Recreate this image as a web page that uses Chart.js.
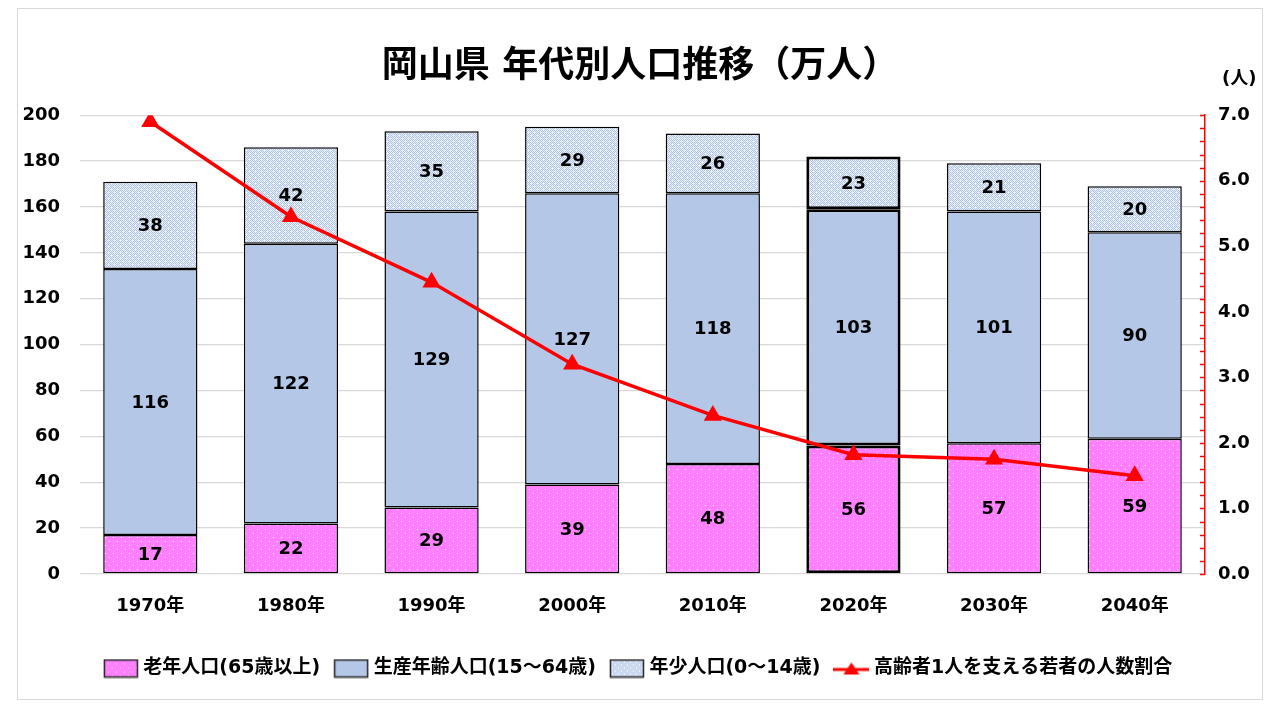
<!DOCTYPE html>
<html><head><meta charset="utf-8">
<script src="https://cdn.jsdelivr.net/npm/chart.js@4"></script>
<style>html,body{margin:0;padding:0;background:#fff;}#wrap{width:1280px;height:720px;}</style>
</head><body><div id="wrap"><canvas id="c" width="1280" height="720"></canvas></div>
<script>
// ---- data ----
const categories = ['1970年','1980年','1990年','2000年','2010年','2020年','2030年','2040年'];
const elderly = [17, 22, 29, 39, 48, 56, 57, 59];
const working = [116, 122, 129, 127, 118, 103, 101, 90];
const young = [38, 42, 35, 29, 26, 23, 21, 20];
const supportRatio = [6.9, 5.45, 4.45, 3.2, 2.42, 1.82, 1.75, 1.5];
const seriesNames = ['老年人口(65歳以上)', '生産年齢人口(15～64歳)', '年少人口(0～14歳)', '高齢者1人を支える若者の人数割合'];
const titleText = '岡山県 年代別人口推移（万人）';
const rightUnit = '(人)';
const leftMax = 200, leftStep = 20;
const rightMax = 7, rightStep = 1, rightMinorStep = 0.2;

const FONT = "'DejaVu Sans', 'Noto Sans CJK JP', sans-serif";

function makeCanvas(w, h) { const c = document.createElement('canvas'); c.width = w; c.height = h; return c; }
function pinkPattern(ctx) {
  const t = makeCanvas(8, 8), g = t.getContext('2d');
  g.fillStyle = '#FF80FF'; g.fillRect(0, 0, 8, 8);
  g.fillStyle = 'rgba(255,255,255,0.85)';
  g.fillRect(1, 1, 1, 1); g.fillRect(5, 5, 1, 1);
  return ctx.createPattern(t, 'repeat');
}
function youngPattern(ctx) {
  const t = makeCanvas(6, 6), g = t.getContext('2d');
  g.fillStyle = '#EAF0F9'; g.fillRect(0, 0, 6, 6);
  g.fillStyle = '#ADC2E5';
  for (let y = 0; y < 6; y++) for (let x = 0; x < 6; x++) {
    if ((x + y) % 2 === 0 && !(x % 3 === 0 && y % 3 === 0)) g.fillRect(x, y, 1, 1);
  }
  return ctx.createPattern(t, 'repeat');
}
const mainCtx = document.getElementById('c').getContext('2d');
const pinkFill = pinkPattern(mainCtx);
const youngFill = youngPattern(mainCtx);
const blueFill = '#B4C7E7';

function boxIcon(fill) {
  const c = makeCanvas(36, 20), g = c.getContext('2d');
  g.fillStyle = fill; g.fillRect(1, 1, 34, 18);
  g.strokeStyle = '#222'; g.lineWidth = 1.5; g.strokeRect(1.5, 1.5, 33, 17);
  return c;
}
function lineIcon() {
  const c = makeCanvas(36, 20), g = c.getContext('2d');
  g.strokeStyle = '#FF0000'; g.lineWidth = 3; g.beginPath(); g.moveTo(0, 11); g.lineTo(36, 11); g.stroke();
  g.fillStyle = '#FF0000'; g.beginPath(); g.moveTo(18, 4); g.lineTo(26, 16); g.lineTo(10, 16); g.closePath(); g.fill();
  return c;
}
const icons = [boxIcon(pinkFill), boxIcon(blueFill), boxIcon(youngFill), lineIcon()];

const barBorderWidths = categories.map((c, i) => i === 5 ? 3 : 1.5);

const decorPlugin = {
  id: 'decor',
  beforeDraw(chart) {
    const ctx = chart.ctx;
    ctx.save();
    ctx.fillStyle = '#fff'; ctx.fillRect(0, 0, chart.width, chart.height);
    ctx.strokeStyle = '#D9D9D9'; ctx.lineWidth = 1;
    ctx.strokeRect(17.5, 8.5, 1245, 691);
    ctx.restore();
  },
  afterDatasetsDraw(chart) {
    const ctx = chart.ctx;
    ctx.save();
    ctx.font = 'bold 18px ' + FONT;
    ctx.fillStyle = '#000'; ctx.textAlign = 'center'; ctx.textBaseline = 'middle';
    [0, 1, 2].forEach(di => {
      const meta = chart.getDatasetMeta(di);
      meta.data.forEach((el, i) => {
        const v = chart.data.datasets[di].data[i];
        ctx.fillText(String(v), el.x, (el.y + el.base) / 2 + 1);
      });
    });
    ctx.restore();
  },
  afterDraw(chart) {
    const ctx = chart.ctx, s = chart.scales.y1;
    ctx.save();
    ctx.strokeStyle = '#FF0000'; ctx.lineWidth = 1.5;
    const ax = s.left;
    for (let k = 0; k <= Math.round(rightMax / rightMinorStep); k++) {
      const y = Math.round(s.getPixelForValue(k * rightMinorStep)) + 0.5;
      ctx.beginPath(); ctx.moveTo(ax - 5, y); ctx.lineTo(ax, y); ctx.stroke();
    }
    ctx.font = 'bold 18px ' + FONT;
    ctx.fillStyle = '#000'; ctx.textAlign = 'left'; ctx.textBaseline = 'middle';
    ctx.fillText(rightUnit, 1222, 79);
    ctx.restore();
  }
};

new Chart(mainCtx, {
  data: {
    labels: categories,
    datasets: [
      { type: 'bar', label: seriesNames[0], data: elderly, backgroundColor: pinkFill, borderColor: '#000', borderWidth: barBorderWidths, borderSkipped: false, stack: 's', yAxisID: 'y', order: 1 },
      { type: 'bar', label: seriesNames[1], data: working, backgroundColor: blueFill, borderColor: '#000', borderWidth: barBorderWidths, borderSkipped: false, stack: 's', yAxisID: 'y', order: 1 },
      { type: 'bar', label: seriesNames[2], data: young, backgroundColor: youngFill, borderColor: '#000', borderWidth: barBorderWidths, borderSkipped: false, stack: 's', yAxisID: 'y', order: 1 },
      { type: 'line', label: seriesNames[3], data: supportRatio, borderColor: '#FF0000', backgroundColor: '#FF0000', borderWidth: 3.5, pointStyle: 'triangle', pointRadius: 10.5, pointBorderWidth: 0, pointBackgroundColor: '#FF0000', yAxisID: 'y1', order: 0, tension: 0 }
    ]
  },
  options: {
    responsive: false,
    animation: false,
    devicePixelRatio: 1,
    layout: { padding: { top: 0, bottom: 32, left: 0, right: 0 } },
    datasets: { bar: { categoryPercentage: 1, barPercentage: 0.67 } },
    scales: {
      x: {
        stacked: true,
        grid: { display: false, drawTicks: false },
        border: { display: false },
        ticks: { color: '#000', font: { family: FONT, size: 18, weight: 'bold' }, padding: 22 },
        afterFit(s) { s.height = 67; }
      },
      y: {
        stacked: true, position: 'left', min: 0, max: leftMax,
        ticks: { stepSize: leftStep, color: '#000', font: { family: FONT, size: 18, weight: 'bold' }, padding: 20 },
        grid: { color: '#D9D9D9', lineWidth: 1.3, drawTicks: false },
        border: { display: false },
        afterFit(s) { s.width = 80; }
      },
      y1: {
        position: 'right', min: 0, max: rightMax,
        ticks: { stepSize: rightStep, color: '#000', font: { family: FONT, size: 18, weight: 'bold' }, padding: 13, callback: v => Number(v).toFixed(1) },
        grid: { drawOnChartArea: false, drawTicks: false },
        border: { display: true, color: '#FF0000', width: 1.5 },
        afterFit(s) { s.width = 75; }
      }
    },
    plugins: {
      title: { display: true, text: titleText, color: '#000', font: { family: FONT, size: 36, weight: 'bold' }, padding: { top: 46, bottom: 26 } },
      tooltip: { enabled: false },
      legend: {
        position: 'bottom',
        labels: {
          color: '#000', font: { family: FONT, size: 19, weight: 'bold' },
          usePointStyle: true, pointStyleWidth: 26, padding: 18,
          sort: (a, b) => a.datasetIndex - b.datasetIndex,
          generateLabels(chart) {
            return chart.data.datasets.map((d, i) => ({ text: d.label, datasetIndex: i, pointStyle: icons[i], fillStyle: 'transparent', strokeStyle: 'transparent', lineWidth: 0, fontColor: '#000', hidden: false }));
          }
        }
      }
    }
  },
  plugins: [decorPlugin]
});
</script></body></html>
